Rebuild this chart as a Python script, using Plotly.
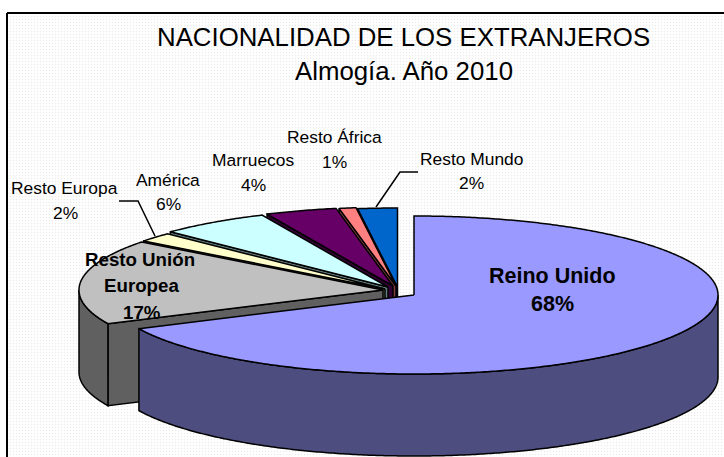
import numpy as np
import plotly.graph_objects as go

TITLE_LINES = ["NACIONALIDAD DE LOS EXTRANJEROS", "Almogía. Año 2010"]
categories = ["Reino Unido", "Resto Unión Europea", "Resto Europa", "América", "Marruecos", "Resto África", "Resto Mundo"]
values = [68.0, 17.4, 1.9, 5.9, 3.8, 0.9, 2.1]
top_colors = ["#9999FF", "#C0C0C0", "#FFFFCC", "#CCFFFF", "#660066", "#FF8080", "#0066CC"]
wall_colors = ["#4D4D80", "#606060", "#808066", "#668080", "#330033", "#804040", "#003366"]
# Pie centre of each slice after explosion, in pixels
centers_x = [414, 383, 385, 388, 393, 396, 397.5]
centers_y = [295, 290, 289, 287, 286, 286, 287]
RX, RY, DEPTH = 304, 79, 82

fig = go.Figure()

# background panel with the stippled fill
fig.add_trace(go.Scatter(
    x=[7, 730, 730, 7, 7], y=[13, 13, 465, 465, 13], mode="lines", fill="toself",
    fillcolor="#FFFFFF", line=dict(color="black", width=2),
    fillpattern=dict(shape=".", fgcolor="#D8D8D8", bgcolor="#FFFFFF", size=3, solidity=0.2),
    hoverinfo="skip", showlegend=False))


def arc(cx, cy, a0, a1):
    a = np.radians(np.linspace(a0, a1, max(int(abs(a1 - a0)) * 2, 2) + 1))
    return cx + RX * np.sin(a), cy - RY * np.cos(a)


def poly(x, y, color):
    x = np.append(x, x[0])
    y = np.append(y, y[0])
    fig.add_trace(go.Scatter(x=x, y=y, mode="lines", fill="toself", fillcolor=color,
                             line=dict(color="black", width=1.5, simplify=False),
                             hoverinfo="skip", showlegend=False))


total = sum(values)
ends = np.cumsum(values) / total * 360
starts = np.concatenate([[0], ends[:-1]])

# painter's order: the back slices first, the large front slice last
for i in reversed(range(len(values))):
    a0, a1 = starts[i], ends[i]
    cx, cy = centers_x[i], centers_y[i]
    # cut face along the starting edge (only faces the viewer on the left half)
    if a0 > 180:
        sx, sy = arc(cx, cy, a0, a0)
        poly(np.array([cx, sx[0], sx[0], cx]),
             np.array([cy, sy[0], sy[0] + DEPTH, cy + DEPTH]), wall_colors[i])
    # outer wall: the part of the rim in the front half
    w0, w1 = max(a0, 90), min(a1, 270)
    if w1 > w0:
        ax, ay = arc(cx, cy, w0, w1)
        poly(np.concatenate([ax, ax[::-1]]), np.concatenate([ay, ay[::-1] + DEPTH]), wall_colors[i])
    # top face
    ax, ay = arc(cx, cy, a0, a1)
    poly(np.concatenate([[cx], ax]), np.concatenate([[cy], ay]), top_colors[i])

FONT = "Liberation Sans"
annotations = []


def text(x, y, s, size, bold=False):
    annotations.append(dict(x=x, y=y, xref="x", yref="y", text=f"<b>{s}</b>" if bold else s,
                            showarrow=False, xanchor="center", yanchor="middle", align="center",
                            font=dict(family=FONT, size=size, color="black")))


text(403, 37, TITLE_LINES[0], 25.8)
text(404, 71, TITLE_LINES[1], 25.8)

pct = [f"{round(v / total * 100)}%" for v in values]
text(552, 276, categories[0], 21.5, True)
text(552, 304, pct[0], 21.5, True)
text(140, 259, "Resto Unión", 18.7, True)
text(141, 285, "Europea", 18.7, True)
text(142, 312, pct[1], 18.7, True)
text(64, 188, categories[2], 17.4)
text(65, 213, pct[2], 17.4)
text(168, 180, categories[3], 17.4)
text(168, 204, pct[3], 17.4)
text(253, 160, categories[4], 17.4)
text(253, 185, pct[4], 17.4)
text(334, 137, categories[5], 17.4)
text(334, 162, pct[5], 17.4)
text(471, 159, categories[6], 17.4)
text(471, 183, pct[6], 17.4)

shapes = [
    dict(type="path", path="M119,201 L138,201 L155,236", xref="x", yref="y", line=dict(color="black", width=1.5)),
    dict(type="path", path="M418,172 L400,172 L376,207", xref="x", yref="y", line=dict(color="black", width=1.5)),
]

fig.update_layout(
    width=724, height=457, margin=dict(l=0, r=0, t=0, b=0), autosize=False,
    paper_bgcolor="white", plot_bgcolor="white", showlegend=False,
    xaxis=dict(range=[0, 724], visible=False, fixedrange=True),
    yaxis=dict(range=[457, 0], visible=False, fixedrange=True),
    annotations=annotations, shapes=shapes)
fig.write_html("out.html", config=dict(displayModeBar=False),
               post_script="document.body.style.margin='0';document.body.style.overflow='hidden';")
